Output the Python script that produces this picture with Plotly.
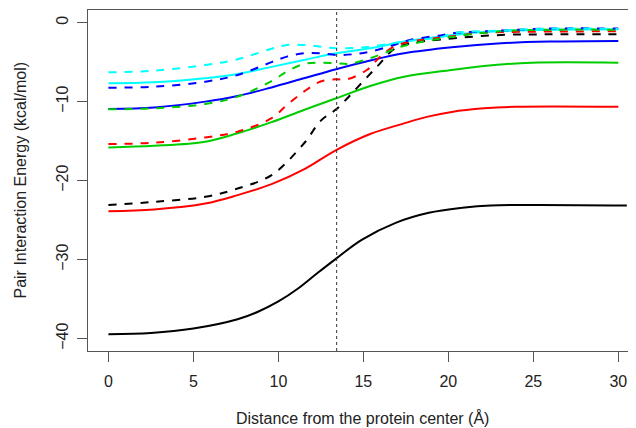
import plotly.graph_objects as go

# ---- data ----
x_black_solid = [0, 2.5, 5, 7.6, 8.8, 10, 11.2, 12.3, 13.4, 14.9, 16.9, 18.85, 20.8, 22.5, 30.5]
y_black_solid = [-39.46, -39.3, -38.73, -37.55, -36.6, -35.3, -33.6, -31.7, -29.87, -27.5, -25.35, -24.08, -23.45, -23.15, -23.15]

x_red_solid = [0, 2.7, 5.7, 7.6, 9.6, 11.5, 13.4, 15.4, 17.4, 18.8, 20.2, 22.1, 23.9, 30]
y_red_solid = [-23.87, -23.65, -22.9, -21.84, -20.45, -18.58, -16.13, -14.1, -12.75, -11.9, -11.3, -10.85, -10.65, -10.65]

x_green_solid = [0, 2.7, 5.7, 7.6, 9.6, 11.5, 13.4, 15.4, 17.4, 20.2, 22.1, 24.9, 30]
y_green_solid = [-15.8, -15.6, -15.08, -14.0, -12.6, -11.06, -9.58, -8.02, -6.84, -6.0, -5.49, -5.07, -5.07]

x_blue_solid = [0, 2.7, 5.7, 7.6, 9.6, 11.5, 13.4, 15.4, 17.4, 20.2, 23.1, 26, 30]
y_blue_solid = [-10.94, -10.73, -10.0, -9.29, -8.2, -7.05, -5.9, -4.8, -3.88, -3.12, -2.61, -2.4, -2.32]

x_cyan_solid = [0, 2.7, 5.7, 7.6, 9.6, 11.5, 13.4, 15.4, 17.4, 20.2, 22, 25, 30]
y_cyan_solid = [-7.68, -7.56, -7.05, -6.5, -5.6, -4.73, -3.88, -3.25, -2.4, -1.6, -1.2, -0.95, -0.85]

x_black_dash = [0, 2.7, 5.7, 7.6, 9.6, 11.5, 12.5, 13.4, 14.6, 15.8, 16.8, 17.75, 19.7, 23.1, 26, 30.3]
y_black_dash = [-23.1, -22.69, -22.05, -21.0, -19.3, -15.3, -12.4, -10.98, -8.32, -5.58, -3.37, -2.61, -2.1, -1.56, -1.48, -1.48]

x_red_dash = [0, 2.7, 5.7, 7.6, 9.6, 10.5, 11.5, 12.45, 13.4, 14.0, 15.2, 16.0, 16.8, 17.75, 19.7, 22, 25, 30]
y_red_dash = [-15.37, -15.2, -14.53, -13.8, -12.1, -10.43, -8.74, -7.48, -7.18, -7.2, -6.0, -4.3, -3.04, -2.4, -1.85, -1.3, -1.15, -1.1]

x_green_dash = [0, 2.7, 5.7, 7.6, 9.6, 10.5, 11.5, 12.45, 13.4, 14.2, 15.4, 16.2, 17.35, 19.7, 23, 26, 30]
y_green_dash = [-10.98, -10.85, -10.3, -9.37, -7.4, -6.2, -5.23, -5.07, -5.15, -5.2, -4.5, -3.88, -2.95, -1.98, -1.1, -0.9, -0.9]

x_blue_dash = [0, 2.7, 5.7, 7.6, 9.6, 10.5, 11.5, 12.45, 13.4, 14.4, 15.4, 16.8, 17.75, 19.7, 20.2, 23.1, 26, 30]
y_blue_dash = [-8.24, -8.11, -7.48, -6.63, -5.0, -4.3, -3.88, -3.88, -4.09, -4.0, -3.67, -2.83, -2.19, -1.56, -1.35, -1.01, -0.75, -0.75]

x_cyan_dash = [0, 2.7, 5.7, 7.6, 9.6, 10.5, 11.5, 12.45, 13.4, 14.4, 15.4, 17.35, 19.7, 20.2, 23.1, 26, 30]
y_cyan_dash = [-6.29, -6.08, -5.36, -4.64, -3.3, -2.83, -2.83, -3.04, -3.25, -3.2, -3.04, -2.4, -1.77, -1.35, -1.0, -0.75, -0.8]

x_marker_line = 13.43

x_ticks = [0, 5, 10, 15, 20, 25, 30]
y_ticks = [-40, -30, -20, -10, 0]

series = [
    (x_black_solid, y_black_solid, "#000000", "solid"),
    (x_red_solid, y_red_solid, "#FF0000", "solid"),
    (x_green_solid, y_green_solid, "#00CD00", "solid"),
    (x_blue_solid, y_blue_solid, "#0000FF", "solid"),
    (x_cyan_solid, y_cyan_solid, "#00FFFF", "solid"),
    (x_black_dash, y_black_dash, "#000000", "8px,8px"),
    (x_red_dash, y_red_dash, "#FF0000", "8px,8px"),
    (x_green_dash, y_green_dash, "#00CD00", "8px,8px"),
    (x_blue_dash, y_blue_dash, "#0000FF", "8px,8px"),
    (x_cyan_dash, y_cyan_dash, "#00FFFF", "8px,8px"),
]

fig = go.Figure()
for xs, ys, col, dash in series:
    fig.add_trace(go.Scatter(x=xs, y=ys, mode="lines",
                             line=dict(color=col, width=2, dash=dash,
                                       shape="spline", smoothing=1.0),
                             showlegend=False, hoverinfo="skip"))

fig.add_shape(type="line", xref="x", yref="paper", x0=x_marker_line, x1=x_marker_line,
              y0=0, y1=1, line=dict(color="#333333", width=1, dash="dot"))

font = dict(family="Liberation Sans, Arial, sans-serif", size=16, color="#222222")

# the page adds an 8px body margin, so the figure is shrunk by 8px on each axis
fig.update_layout(
    width=628, height=420,
    margin=dict(l=80, r=0, t=2, b=77, autoexpand=False),
    paper_bgcolor="white", plot_bgcolor="white",
    font=font,
    xaxis=dict(range=[-1.2, 31.04], tickvals=x_ticks, ticks="outside", ticklen=10,
               tickcolor="#555555", showline=True, linecolor="#555555", linewidth=1,
               mirror=True, showgrid=False, zeroline=False, tickfont=font,
               automargin=False, ticklabelstandoff=6),
    yaxis=dict(range=[-41.57, 1.6], tickvals=y_ticks, ticks="outside", ticklen=10,
               tickcolor="#555555", showline=True, linecolor="#555555", linewidth=1,
               mirror=False, showgrid=False, zeroline=False, tickangle=-90, tickfont=font,
               automargin=False, ticklabelstandoff=3),
    annotations=[
        dict(text="Distance from the protein center (Å)", xref="paper", yref="paper",
             x=0.5, y=0, yshift=-67, xanchor="center", yanchor="middle", showarrow=False,
             font=font, xshift=(362.5 - (88 + 548 / 2))),
        dict(text="Pair Interaction Energy (kcal/mol)", xref="paper", yref="paper",
             x=0, y=0.5, xshift=-68, xanchor="center", yanchor="middle", showarrow=False,
             textangle=-90, font=font),
    ],
)

fig.write_html("out.html")
